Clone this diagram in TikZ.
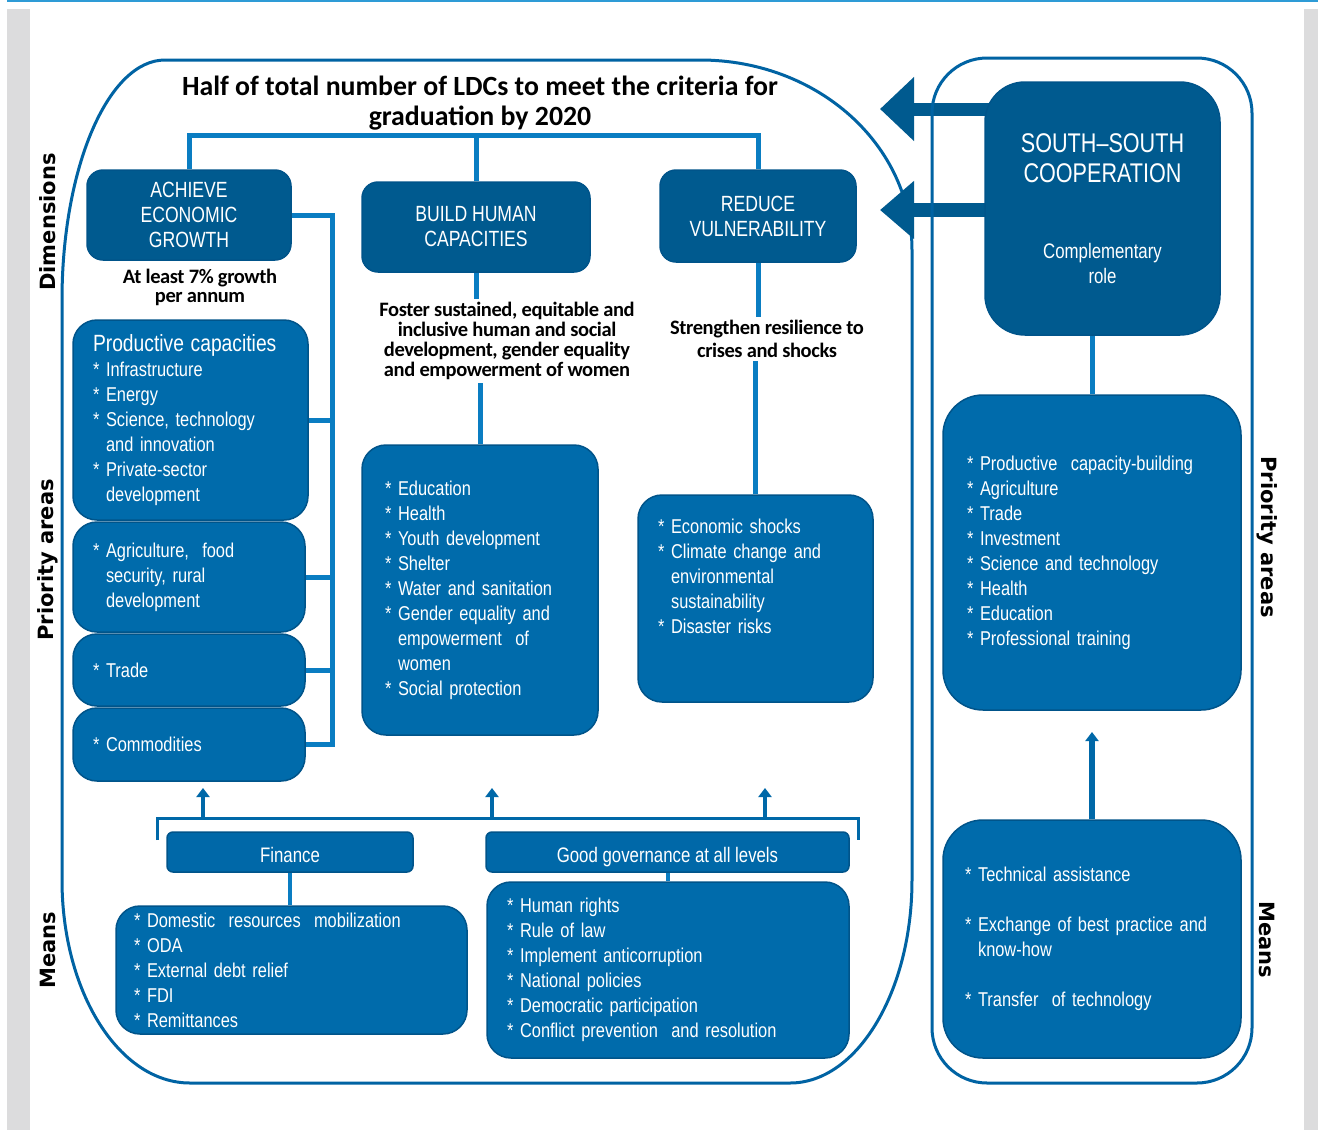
\documentclass[tikz,border=0pt]{standalone}
\usepackage{fontspec}
\usetikzlibrary{arrows.meta,backgrounds}
\setmainfont{Liberation Sans}
\newfontfamily\narrowfont[FakeStretch=0.8]{Liberation Sans}
\newfontfamily\listfont[FakeStretch=0.82]{Liberation Sans}
\newfontfamily\capfont[LetterSpace=-2]{Carlito}
\newfontfamily\titlefont{Carlito}
\newfontfamily\sidefont{DejaVu Sans}
\definecolor{dimblue}{HTML}{005A8F}
\definecolor{listblue}{HTML}{006BAB}
\definecolor{headblue}{HTML}{0068A8}
\definecolor{edgeblue}{HTML}{00548A}
\definecolor{frameblue}{HTML}{0063A3}
\definecolor{linkblue}{HTML}{0A7DC2}
\definecolor{stripgray}{HTML}{DCDCDD}
\definecolor{topblue}{HTML}{2E9BD6}
\newcommand\bul{*~}
\newcommand\listind{\phantom{*~}}

\begin{document}
\begin{tikzpicture}[x=1pt,y=-1pt,
  dimbox/.style={fill=dimblue,draw=edgeblue,line width=1.5pt,rounded corners=16pt,text=white,align=center,font=\narrowfont\fontsize{22}{25}\selectfont},
  listbox/.style={fill=listblue,draw=edgeblue,line width=1.5pt,rounded corners=24pt,text=white,align=left,inner xsep=20pt,font=\listfont\fontsize{20}{25}\selectfont},
  headbox/.style={fill=headblue,draw=edgeblue,line width=1.5pt,rounded corners=6pt,text=white,text height=24pt,text depth=3pt,font=\narrowfont\fontsize{21}{25}\selectfont},
  caption/.style={align=center,text=black,font=\capfont\bfseries\fontsize{20.5}{20}\selectfont},
  sidelabel/.style={font=\sidefont\bfseries\fontsize{21}{24}\selectfont},
  frame/.style={draw=frameblue,line width=3pt},
  link/.style={draw=linkblue,line width=5pt},
  bracket/.style={draw=headblue,line width=3pt},
  uparrow/.style={draw=headblue,line width=4pt,-{Triangle[width=13pt,length=9pt]}},
  bigarrow/.style={draw=dimblue,-{Triangle[width=62pt,length=34pt]}}]
\useasboundingbox (0,0) rectangle (1318,1130);

% goal and dimensions
\node[font=\titlefont\bfseries\fontsize{27.8}{30}\selectfont,align=center] (goal) at (480,103) {Half of total number of LDCs to meet the criteria for\\graduation by 2020};
\node[dimbox,minimum width=204pt,minimum height=90pt] (achieve) at (189,215) {ACHIEVE\\ECONOMIC\\GROWTH};
\node[dimbox,minimum width=228pt,minimum height=90pt] (build) at (476,227) {BUILD HUMAN\\CAPACITIES};
\node[dimbox,minimum width=196pt,minimum height=92pt] (reduce) at (758,216) {REDUCE\\VULNERABILITY};
\node[caption,font=\capfont\bfseries\fontsize{20.5}{19}\selectfont] (growth) at (200,287) {At least 7\% growth\\per annum};
\node[caption] (foster) at (507,341) {Foster sustained, equitable and\\inclusive human and social\\development, gender equality\\and empowerment of women};
\node[caption,font=\capfont\bfseries\fontsize{20.5}{23}\selectfont] (resil) at (767,339) {Strengthen resilience to\\crises and shocks};

% priority areas
\node[listbox,text width=195pt,minimum height=200pt] (prod) at (190.5,420) {{\fontsize{23.5}{25}\selectfont Productive capacities}\\\bul Infrastructure\\\bul Energy\\\bul Science, technology\\\listind and innovation\\\bul Private-sector\\\listind development};
\node[listbox,text width=192pt,minimum height=110pt] (agri) at (189,577) {\bul Agriculture,~ food\\\listind security, rural\\\listind development};
\node[listbox,text width=192pt,minimum height=72pt] (trade) at (189,670) {\bul Trade};
\node[listbox,text width=192pt,minimum height=73pt] (commod) at (189,744.5) {\bul Commodities};
\node[listbox,text width=190pt,minimum height=290pt,inner xsep=23pt] (hclist) at (480,590) {\bul Education\\\bul Health\\\bul Youth development\\\bul Shelter\\\bul Water and sanitation\\\bul Gender equality and\\\listind empowerment~ of\\\listind women\\\bul Social protection};
\node[listbox,text width=195pt,minimum height=207pt] (vullist) at (755.5,598.5) {\bul Economic shocks\\\bul Climate change and\\\listind environmental\\\listind sustainability\\\bul Disaster risks\\[20pt]\mbox{}};

% means
\node[headbox,minimum width=246pt,minimum height=40pt] (finance) at (290,852) {Finance};
\node[headbox,minimum width=363pt,minimum height=40pt] (gov) at (667.5,852) {Good governance at all levels};
\node[listbox,text width=315pt,minimum height=128pt,inner xsep=18pt] (finlist) at (291.5,970) {\bul Domestic~ resources~ mobilization\\\bul ODA\\\bul External debt relief\\\bul FDI\\\bul Remittances};
\node[listbox,text width=322pt,minimum height=176pt] (govlist) at (668,970) {\bul Human rights\\\bul Rule of law\\\bul Implement anticorruption\\\bul National policies\\\bul Democratic participation\\\bul Conflict prevention~ and resolution};

% south-south cooperation
\node[dimbox,rounded corners=40pt,minimum width=235pt,minimum height=253pt,font=\narrowfont\fontsize{27}{30}\selectfont] (ssc) at (1102.5,208.5) {SOUTH–SOUTH\\COOPERATION\\[46pt]{\fontsize{21}{25}\selectfont Complementary}\\[-5pt]{\fontsize{21}{25}\selectfont role}};
\node[listbox,rounded corners=40pt,text width=250pt,minimum height=315pt,inner xsep=24pt] (sspri) at (1092,552.5) {\bul Productive~ capacity-building\\\bul Agriculture\\\bul Trade\\\bul Investment\\\bul Science and technology\\\bul Health\\\bul Education\\\bul Professional training};
\node[listbox,rounded corners=40pt,text width=254pt,minimum height=238pt,inner xsep=22pt] (ssmeans) at (1092,939) {\bul Technical assistance\\[25pt]\bul Exchange of best practice and\\\listind know-how\\[25pt]\bul Transfer~ of technology};

% side labels
\node[sidelabel,rotate=90] (dimlab) at (48,222) {Dimensions};
\node[sidelabel,rotate=90] (prilab) at (48,560) {Priority areas};
\node[sidelabel,rotate=90] (meanlab) at (48,950) {Means};
\node[sidelabel,rotate=-90] (sspril) at (1267,537) {Priority areas};
\node[sidelabel,rotate=-90] (ssmeanl) at (1267,940) {Means};

% connectors
\coordinate (bar) at (476,135);
\draw[link] (achieve.north) |- (bar) -| (reduce.north); \draw[link] (build.north) -- (bar);
\draw[link] (achieve.east) -- ++(41,0) coordinate (spine) |- (commod.east);
\foreach \b in {prod,agri,trade}{\draw[link] (\b.east) -- (\b.east -| spine);}
\draw[link] (build.south) -- (build.south |- foster.north); \draw[link] (hclist.north) -- (hclist.north |- foster.south);
\draw[link] (reduce.south) -- (reduce.south |- resil.north); \draw[link] (vullist.north) -- (vullist.north |- resil.south);
\draw[link,line width=4pt] (finance.south) -- (finance.south |- finlist.north);
\draw[link,line width=4pt] (gov.south) -- (gov.south |- govlist.north);
\draw[link] (sspri.north) -- (sspri.north |- ssc.south);
\coordinate (brl) at (157,840); \coordinate (brr) at (858,840);
\draw[bracket] (brl) -- ++(0,-22) -| (brr);
\foreach \x/\n in {203/fa,492/fb,765/fc}{\coordinate (\n) at (\x,818); \draw[uparrow] (\n) -- ++(0,-30);}
\coordinate (sstip) at (1092,732);
\draw[uparrow,line width=6pt] (ssmeans.north) -- (sstip);

\begin{pgfonlayer}{background}
\fill[white] (0,0) rectangle (1318,1130);
\fill[stripgray] (7,9) rectangle (30,1130); \fill[stripgray] (1304,9) rectangle (1318,1130);
\fill[topblue] (7,0) rectangle (1318,2);
\draw[frame] (62,300) .. controls (62,168) and (108,60) .. (165,60) -- (700,60) .. controls (818,60) and (912,145) .. (912,250) -- (912,880) .. controls (912,992) and (857,1083) .. (790,1083) -- (190,1083) .. controls (119,1083) and (62,992) .. (62,880) -- cycle;
\coordinate (tipa) at (880,109); \coordinate (tipb) at (880,210);
\draw[bigarrow,line width=13pt] (ssc.center |- tipa) -- (tipa);
\draw[bigarrow,line width=14pt,-{Triangle[width=56pt,length=34pt]}] (ssc.center |- tipb) -- (tipb);
\draw[frame,rounded corners=55pt] (932,58) rectangle (1252,1083);
\end{pgfonlayer}
\end{tikzpicture}
\end{document}
